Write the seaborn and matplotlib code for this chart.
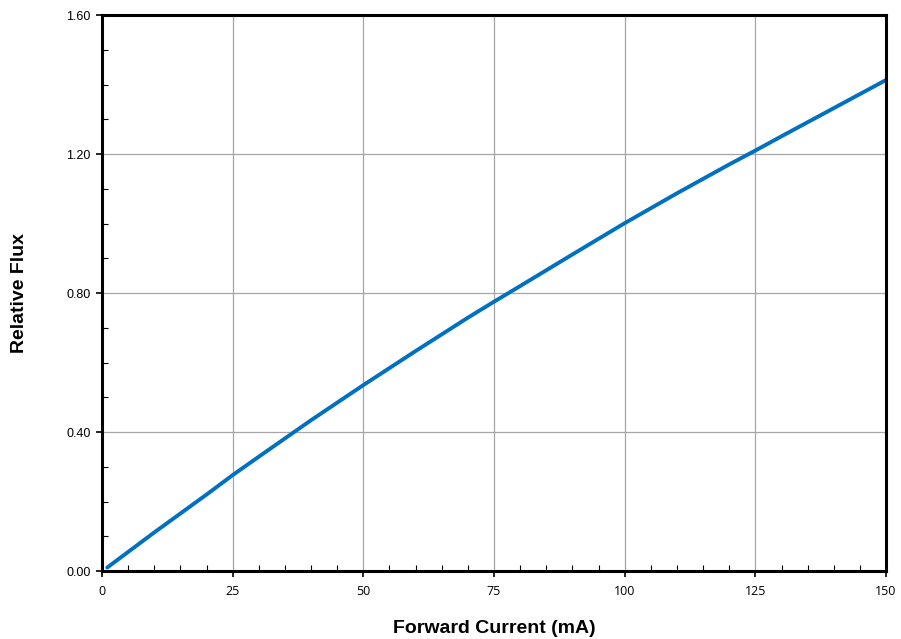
import matplotlib
matplotlib.use("Agg")
import matplotlib.pyplot as plt
import seaborn as sns
import pandas as pd
from matplotlib.ticker import MultipleLocator

# valores
current = [1, 10, 20, 25, 30, 40, 50, 60, 70, 75, 80, 90, 100, 110, 120, 125, 130, 140, 150]
flux = [0.01, 0.111, 0.220, 0.276, 0.329, 0.434, 0.535, 0.633, 0.729, 0.775, 0.820,
        0.911, 1.001, 1.087, 1.170, 1.210, 1.251, 1.332, 1.413]
xticks = [0, 25, 50, 75, 100, 125, 150]
yticks = [0.0, 0.4, 0.8, 1.2, 1.6]

data = pd.DataFrame({"Forward Current (mA)": current, "Relative Flux": flux})

sns.set_style("ticks")
plt.rcParams['font.family'] = ['Liberation Sans', 'DejaVu Sans']
plt.rcParams['text.color'] = 'black'
plt.rcParams['axes.labelcolor'] = 'black'
plt.rcParams['xtick.color'] = 'black'
plt.rcParams['ytick.color'] = 'black'

fig = plt.figure(figsize=(9.01, 6.39), dpi=100)
ax = fig.add_axes([0.1132, 0.1064, 0.8702, 0.8701])
sns.lineplot(x="Forward Current (mA)", y="Relative Flux", data=data, ax=ax,
             color='#0070C0', linewidth=2.8)

ax.set_xlim(0, 150)
ax.set_ylim(0, 1.6)
ax.set_xticks(xticks)
ax.set_yticks(yticks)
ax.set_yticklabels(["%.2f" % v for v in yticks], fontsize=9)
ax.set_xticklabels([str(v) for v in xticks], fontsize=9, family='Open Sans')
ax.xaxis.set_minor_locator(MultipleLocator(5))
ax.yaxis.set_minor_locator(MultipleLocator(0.1))
ax.tick_params(which='major', direction='out', length=4, width=1.2, pad=4)
ax.tick_params(which='minor', direction='in', length=4, width=0.8)
ax.tick_params(axis='x', which='major', pad=6)
ax.grid(True, which='major', color='#a6a6a6', linewidth=0.9)
for s in ax.spines.values():
    s.set_visible(True)
    s.set_color('black')
    s.set_linewidth(2.2)

ax.set_xlabel("Forward Current (mA)", fontsize=14, fontweight='bold', labelpad=16)
ax.set_ylabel("Relative Flux", fontsize=14, fontweight='bold', labelpad=28)

fig.savefig("out.png", dpi=100)
